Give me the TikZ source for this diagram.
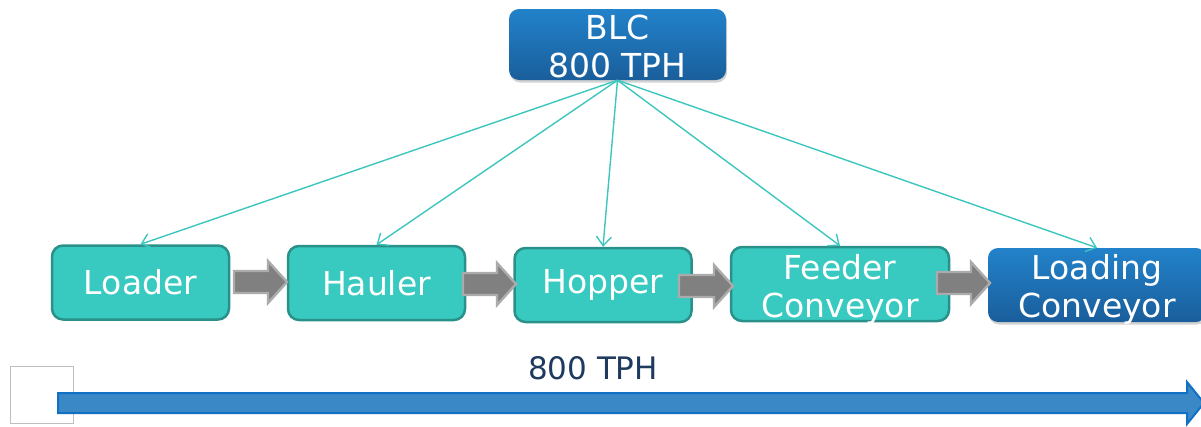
\documentclass[tikz,border=0pt]{standalone}
\usepackage{fontspec}
\setmainfont{DejaVu Sans}
\usetikzlibrary{arrows.meta,shadows}
\definecolor{tealfill}{HTML}{38C9C0}
\definecolor{tealdraw}{HTML}{2A918A}
\definecolor{tealline}{HTML}{3CC6BE}
\definecolor{bluetop}{HTML}{2282CA}
\definecolor{bluebot}{HTML}{1A5E9B}
\definecolor{arrowgray}{HTML}{808080}
\definecolor{arrowedge}{HTML}{ABABAB}
\definecolor{bigfill}{HTML}{3B88C7}
\definecolor{bigedge}{HTML}{1170C4}
\definecolor{navy}{HTML}{1F3A5F}
\tikzset{
  lbl/.style={font=\fontsize{33}{38}\selectfont, text=white, align=center, inner sep=0pt},
  tealbox/.style={lbl, draw=tealdraw, fill=tealfill, line width=2.5pt, rounded corners=11pt, minimum height=74pt},
  bluebox/.style={draw=none, top color=bluetop, bottom color=bluebot, rounded corners=10pt, inner sep=0pt,
     drop shadow={shadow xshift=1pt, shadow yshift=-2.5pt, opacity=0.35}},
  feed/.style={draw=tealline, line width=1.4pt, -{Straight Barb[length=9pt,width=15pt,line width=1.4pt]}},
  grayarrow/.style={fill=arrowgray, draw=arrowedge, line width=2.4pt, line join=miter},
  bigarrow/.style={fill=bigfill, draw=bigedge, line width=2pt}
}
\newcommand\blockarr[3]{%
  \draw[grayarrow] (#1,{#3-11}) -- ({#2-19},{#3-11}) -- ({#2-19},{#3-21}) -- (#2,#3)
     -- ({#2-19},{#3+21}) -- ({#2-19},{#3+11}) -- (#1,{#3+11}) -- cycle;}
\begin{document}
\begin{tikzpicture}[x=1pt,y=-1pt]
\useasboundingbox (0,0) rectangle (1201,426);
% BLC box
\node[bluebox, minimum width=217pt, minimum height=71pt] (blc) at (617.5,44.5) {};
\node[lbl, yshift=-2pt] (blclbl) at (blc.center) {BLC\\800 TPH};
% process boxes
\node[tealbox, minimum width=177pt] (loader) at (140.5,282.5) {Loader};
\node[tealbox, minimum width=177pt] (hauler) at (376.5,283) {Hauler};
\node[tealbox, minimum width=177pt] (hopper) at (603,285) {Hopper};
\node[tealbox, minimum width=218pt] (feeder) at (840,284) {};
\node[lbl, yshift=-5pt] (feederlbl) at (feeder.center) {Feeder\\Conveyor};
\node[bluebox, minimum width=218pt, minimum height=74pt] (loading) at (1097,285) {};
\node[lbl, yshift=-4pt] (loadinglbl) at (loading.center) {Loading\\Conveyor};
% block arrows
\blockarr{234}{287}{282}
\blockarr{463}{516}{284}
\blockarr{679}{733}{286}
\blockarr{937}{990}{283}
% feed lines
\draw[feed] (blc.south) -- (loader.north);
\draw[feed] (blc.south) -- (hauler.north);
\draw[feed] (blc.south) -- (hopper.north);
\draw[feed] (blc.south) -- (feeder.north);
\draw[feed] (blc.south) -- (loading.north);
% bottom
\draw[draw=black!25, line width=0.8pt] (10,366) rectangle (73,423);
\draw[bigarrow] (58,393) -- (1187,393) -- (1187,382) -- (1204,403) -- (1187,424) -- (1187,413) -- (58,413) -- cycle;
\node[font=\fontsize{31}{36}\selectfont, text=navy, inner sep=0pt] (tph) at (593,368) {800 TPH};
\end{tikzpicture}
\end{document}
